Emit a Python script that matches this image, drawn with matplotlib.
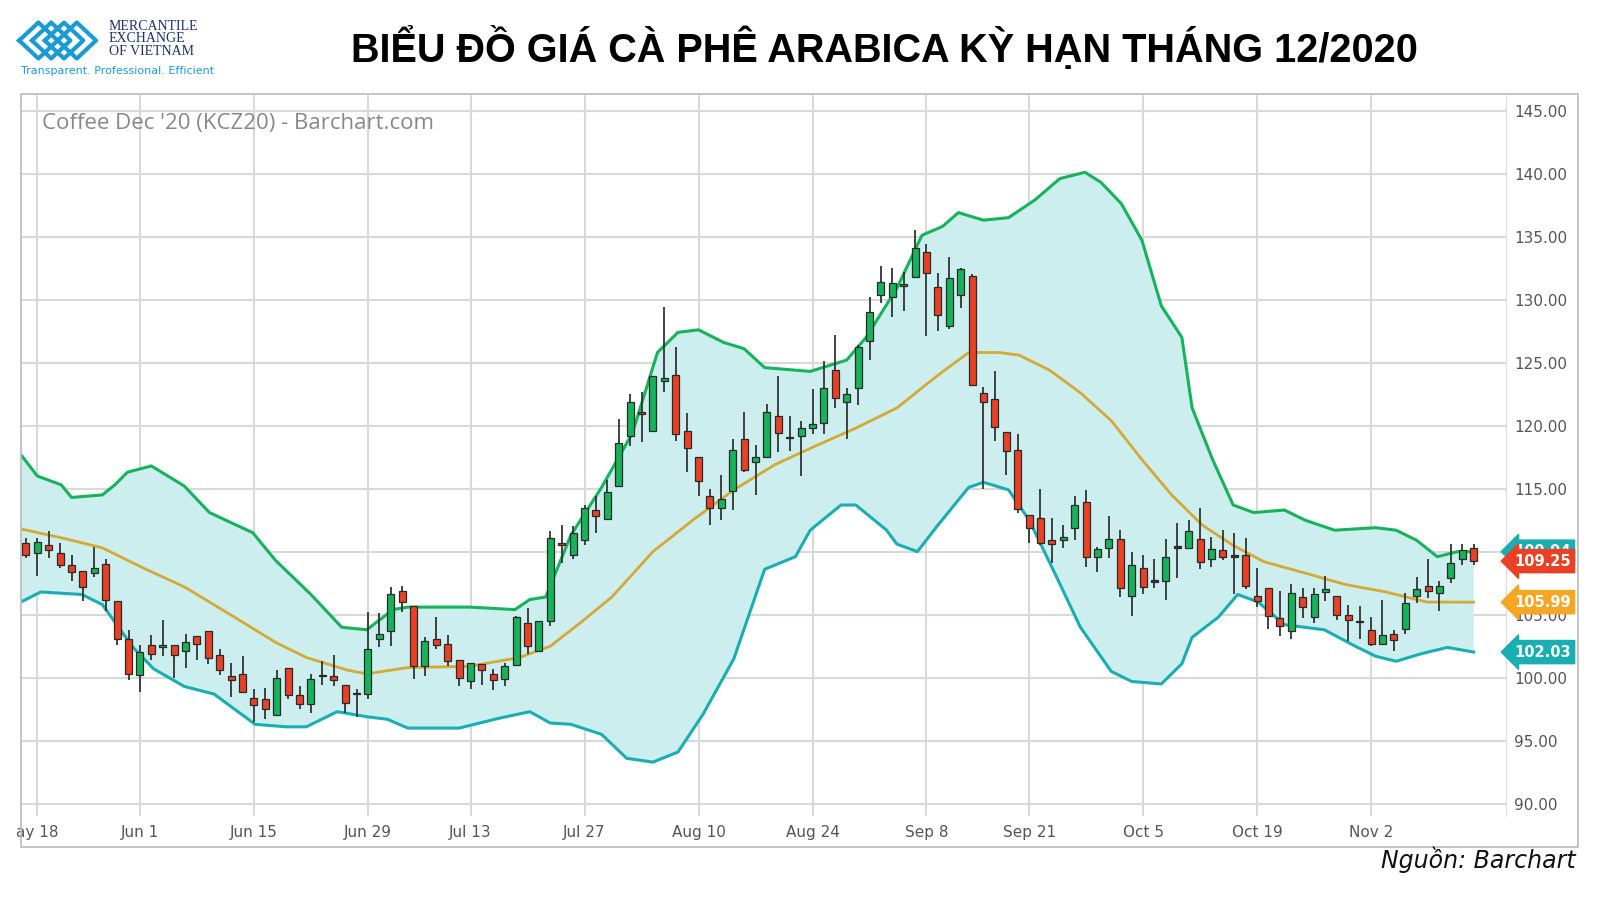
import matplotlib
matplotlib.use("Agg")
import matplotlib.pyplot as plt
from matplotlib.patches import Rectangle, Polygon
import numpy as np

# ---------------- data ----------------
opens = [110.7,109.9,110.5,109.9,108.9,108.5,108.3,109.0,106.1,103.1,100.2,102.6,102.4,102.6,102.1,103.3,103.7,101.8,100.1,100.3,
         98.4,98.3,97.0,100.8,98.6,97.9,100.1,100.1,99.4,98.7,98.7,
         103.1,103.7,106.9,105.7,100.9,103.1,102.7,101.4,99.7,101.1,100.3,99.9,101.0,104.3,102.1,104.5,110.7,109.7,110.9,
         113.3,112.6,115.2,119.2,121.1,119.6,123.5,124.0,119.6,117.5,
         114.4,113.5,114.8,118.9,117.1,117.5,120.8,119.1,119.2,119.8,120.2,124.4,121.9,123.0,126.7,130.4,130.2,131.1,131.8,
         133.8,131.0,127.9,130.4,131.9,122.6,122.1,119.5,118.1,112.9,
         112.7,110.9,110.9,111.9,113.9,109.6,110.3,111.0,106.5,108.7,107.6,107.7,110.3,110.3,111.0,109.4,110.1,109.6,109.7,
         106.5,107.1,104.7,103.7,106.4,104.8,106.8,106.5,105.0,104.5,103.8,102.7,103.5,103.9,106.5,107.3,106.7,107.9,109.4,110.3]
highs = [111.1,111.1,111.6,110.7,109.7,108.5,110.4,109.4,106.1,103.8,102.6,103.4,104.6,102.6,103.5,103.3,103.7,102.3,101.2,101.7,
         99.1,99.2,100.6,100.8,99.3,100.3,101.3,101.8,99.4,99.1,105.2,
         105.1,107.2,107.3,105.7,103.2,104.8,103.4,101.4,101.2,101.1,100.7,101.2,104.9,105.5,104.5,111.6,112.1,112.0,113.7,
         114.4,115.7,120.5,122.5,122.7,123.9,129.4,126.2,121.0,117.5,
         115.0,116.1,118.9,121.1,118.5,121.7,123.9,120.8,120.4,122.9,125.1,127.2,123.0,126.4,130.2,132.7,132.5,132.2,135.5,
         134.4,132.1,133.4,132.5,132.0,123.1,124.3,119.5,119.3,112.9,
         115.0,112.7,112.1,114.4,114.9,110.4,112.8,111.7,110.0,109.7,109.4,111.0,112.3,112.5,113.5,111.2,111.7,111.5,111.1,
         108.7,107.1,106.9,107.4,107.1,107.1,108.1,106.5,105.8,105.7,104.8,106.2,103.8,106.7,108.0,109.4,107.7,110.6,110.6,110.6]
lows = [109.5,108.1,109.5,108.7,107.7,106.1,108.0,105.3,102.6,99.8,98.9,101.4,101.7,100.0,100.8,101.4,101.1,100.2,98.5,98.8,
        96.5,96.7,97.0,98.3,97.5,97.2,99.4,99.3,97.2,96.9,98.3,
        102.4,102.5,105.2,99.9,100.1,102.3,100.9,99.3,99.1,99.4,99.0,99.3,100.9,101.9,102.0,104.1,109.1,109.4,110.5,
        111.5,112.5,115.2,118.4,118.7,119.6,122.7,118.8,116.3,114.4,
        112.1,112.5,113.3,116.3,114.5,117.5,117.9,118.0,116.0,119.3,119.3,121.4,118.9,121.6,125.2,129.7,128.6,129.1,131.8,
        127.1,127.5,127.7,129.3,123.2,115.0,118.8,116.1,113.1,110.7,
        110.5,109.1,110.3,110.9,108.8,108.4,109.5,106.4,104.9,106.6,107.1,106.2,107.9,110.3,108.6,108.8,109.3,106.6,107.0,
        105.6,103.9,103.3,103.1,104.7,104.3,106.1,104.6,102.9,103.1,102.5,102.6,102.1,103.5,105.9,106.3,105.3,107.5,108.9,108.9]
closes = [109.7,110.8,110.1,108.9,108.4,107.2,108.7,106.2,103.1,100.3,102.0,101.9,102.6,101.8,102.8,102.7,101.6,100.6,99.8,98.9,
          97.8,97.5,100.0,98.6,97.9,99.9,100.1,99.8,98.0,98.7,102.3,
          103.5,106.6,106.0,100.9,102.9,102.6,101.3,100.0,101.2,100.6,99.8,100.9,104.8,102.5,104.5,111.1,110.5,111.5,113.5,
          112.8,114.7,118.6,121.9,120.9,123.9,123.8,119.3,118.2,115.6,
          113.5,114.2,118.1,116.5,117.5,121.1,119.4,119.0,119.8,120.1,123.0,122.2,122.5,126.2,129.0,131.4,131.3,131.2,134.1,
          132.1,128.8,131.7,132.4,123.2,121.9,119.9,118.0,113.4,111.9,
          110.7,110.6,111.2,113.7,109.6,110.2,111.0,107.1,108.9,107.2,107.6,109.6,110.3,111.6,109.2,110.2,109.6,109.6,107.3,
          106.1,104.9,104.1,106.7,105.6,106.6,107.0,105.0,104.6,104.4,102.7,103.4,103.0,105.9,107.0,106.9,107.3,109.1,110.1,109.25]

upper_x = [-0.45,1,3.1,4.0,6.7,7.8,8.9,11.0,13.9,16.1,19.9,21.9,25.0,27.7,29.9,32.2,33.5,38.9,42.9,44.2,45.6,47.8,50.5,53.2,
           55.4,57.2,59.0,61.2,63.0,64.8,68.8,72.0,73.7,76.4,78.6,80.4,81.8,84.0,86.2,88.5,90.7,92.9,94.3,96.1,97.9,99.6,
           101.4,102.3,104.1,105.9,107.7,110.4,112.2,114.8,118.4,120.2,122.0,123.8,125.6,127.0]
upper_y = [117.7,116.0,115.3,114.3,114.5,115.3,116.3,116.8,115.2,113.1,111.5,109.3,106.6,104.0,103.8,105.4,105.6,105.6,105.4,
           106.2,106.4,111.3,115.1,119.4,125.8,127.4,127.6,126.6,126.1,124.6,124.3,125.2,127.0,130.9,135.1,135.8,136.9,136.3,
           136.5,137.9,139.6,140.1,139.3,137.6,134.7,129.5,127.0,121.4,117.3,113.7,113.1,113.3,112.5,111.7,111.9,111.7,110.9,
           109.6,110.0,110.0]
mid_x = [-0.45,3.1,6.7,10.3,13.9,18.3,21.9,24.6,28.2,29.9,33.5,38.9,43.3,46.0,48.7,51.4,55.0,58.5,62.1,65.7,69.3,72.8,76.4,
         80.0,82.7,85.3,87.1,89.8,92.5,95.2,97.9,100.5,103.2,105.9,108.6,112.2,115.7,119.3,122.9,127.0]
mid_y = [111.8,111.1,110.3,108.7,107.2,104.8,102.8,101.6,100.6,100.3,100.8,100.9,101.6,102.5,104.4,106.4,110.0,112.5,114.9,
         116.9,118.4,119.8,121.4,124.0,125.8,125.8,125.6,124.4,122.6,120.4,117.3,114.5,112.1,110.5,109.2,108.3,107.4,106.8,
         106.0,105.99]
lower_x = [-0.45,1.3,4.9,6.7,9.4,11.2,13.9,16.5,20.1,22.8,24.6,27.3,29.9,31.7,33.5,38.0,41.6,44.2,46.0,47.8,50.5,52.7,55.0,
           57.2,59.4,62.1,64.8,67.5,68.8,71.5,72.8,75.5,76.4,78.2,80.0,82.7,84.0,86.2,88.0,90.3,92.5,95.2,97.0,99.6,101.4,
           102.3,104.6,106.3,108.1,110.4,113.9,116.6,118.4,120.2,122.4,124.7,127.0]
lower_y = [106.0,106.8,106.6,105.8,102.4,100.7,99.3,98.7,96.3,96.1,96.1,97.3,96.9,96.7,96.0,96.0,96.8,97.3,96.4,96.3,95.5,
           93.6,93.3,94.1,97.1,101.5,108.6,109.6,111.7,113.7,113.7,111.7,110.6,110.0,112.1,115.1,115.5,114.9,112.5,108.2,
           104.0,100.5,99.7,99.5,101.1,103.2,104.8,106.6,106.0,104.2,103.8,102.5,101.7,101.3,101.9,102.4,102.03]

tick_pos = [1,10,20,30,39,49,59,69,79,88,98,108,118]
tick_labels = ["ay 18","Jun 1","Jun 15","Jun 29","Jul 13","Jul 27","Aug 10","Aug 24","Sep 8","Sep 21","Oct 5","Oct 19","Nov 2"]
y_ticks = [90,95,100,105,110,115,120,125,130,135,140,145]

# ---------------- figure ----------------
fig = plt.figure(figsize=(16, 9), dpi=100)
fig.patch.set_facecolor("white")
ax = fig.add_axes([0.013, 0.093, 0.928, 0.801])
ax.set_facecolor("white")

GREEN = "#16b35a"; RED = "#ea4025"; TEAL = "#19aeb2"; GOLD = "#d4a935"; FILL = "#cdeeee"

poly = Polygon(np.column_stack([np.concatenate([upper_x, lower_x[::-1]]),
                                np.concatenate([upper_y, lower_y[::-1]])]),
               closed=True, facecolor=FILL, edgecolor="none", zorder=1)
ax.add_patch(poly)
ax.plot(upper_x, upper_y, color=GREEN, lw=2.2, zorder=3)
ax.plot(lower_x, lower_y, color=TEAL, lw=2.2, zorder=3)
ax.plot(mid_x, mid_y, color=GOLD, lw=2.0, zorder=3)

w = 0.62
for i, (o, h, l, c) in enumerate(zip(opens, highs, lows, closes)):
    col = GREEN if c > o else (RED if c < o else "#333333")
    ax.vlines(i, l, h, color="#333333", lw=1.3, zorder=4)
    bot = min(o, c); hgt = max(abs(c - o), 0.12)
    ax.add_patch(Rectangle((i - w / 2, bot), w, hgt, facecolor=col, edgecolor="#2a2a2a", lw=0.9, zorder=5))

ax.set_xlim(-0.45, 129.8)
ax.set_ylim(89.0, 146.2)
ax.set_xticks(tick_pos)
ax.set_xticklabels(tick_labels, fontsize=11, color="#555555")
ax.set_yticks(y_ticks)
ax.set_yticklabels([f"{v:.2f}" for v in y_ticks], fontsize=11, color="#555555")
ax.yaxis.tick_right()
ax.tick_params(length=0, pad=6)
ax.grid(True, color="#d9d9d9", lw=1.5, zorder=0)
ax.set_axisbelow(True)
for s in ["top", "left", "bottom"]:
    ax.spines[s].set_visible(False)
ax.spines["right"].set_color("#dddddd")

ax.text(0.014, 0.975, "Coffee Dec '20 (KCZ20) - Barchart.com", transform=ax.transAxes,
        fontsize=16, color="#888888", va="top", ha="left", family="Open Sans")

# last-value tags (upper band tag partly hidden behind the last-price tag, as in the source)
tags = [(110.0, TEAL, "109.94"), (109.25, RED, "109.25"), (105.99, "#f5a623", "105.99"), (102.03, TEAL, "102.03")]
for val, col, txt in tags:
    ax.annotate(txt, xy=(1.0, val), xycoords=("axes fraction", "data"), xytext=(6, 0),
                textcoords="offset points", ha="left", va="center", fontsize=10.5, color="white",
                fontweight="bold", bbox=dict(boxstyle="larrow,pad=0.28", fc=col, ec=col), zorder=10,
                annotation_clip=False)

# outer frame
fig.patches.append(Rectangle((0.013, 0.059), 0.973, 0.836, transform=fig.transFigure,
                             fill=False, edgecolor="#bbbbbb", lw=1.2))

# title
fig.text(0.553, 0.947, "BIỂU ĐỒ GIÁ CÀ PHÊ ARABICA KỲ HẠN THÁNG 12/2020", ha="center", va="center",
         fontsize=28.5, fontweight="bold", color="black", family="Liberation Sans")

# logo
lx = [0.012, 0.02, 0.028, 0.036]
for x0 in lx:
    fig.lines.append(plt.Line2D([x0, x0 + 0.012, x0 + 0.024, x0 + 0.012, x0],
                                [0.955, 0.975, 0.955, 0.935, 0.955], transform=fig.transFigure,
                                color="#1c9ad6", lw=3))
fig.text(0.068, 0.957, "MERCANTILE\nEXCHANGE\nOF VIETNAM", fontsize=10, color="#1b2f6e",
         va="center", ha="left", linespacing=0.95, family="Liberation Serif")
fig.text(0.013, 0.921, "Transparent. Professional. Efficient", fontsize=8, color="#1c9ad6",
         va="center", ha="left")

fig.text(0.985, 0.045, "Nguồn: Barchart", ha="right", va="center", fontsize=17, style="italic",
         color="#111111")

fig.savefig("out.png", dpi=100)
